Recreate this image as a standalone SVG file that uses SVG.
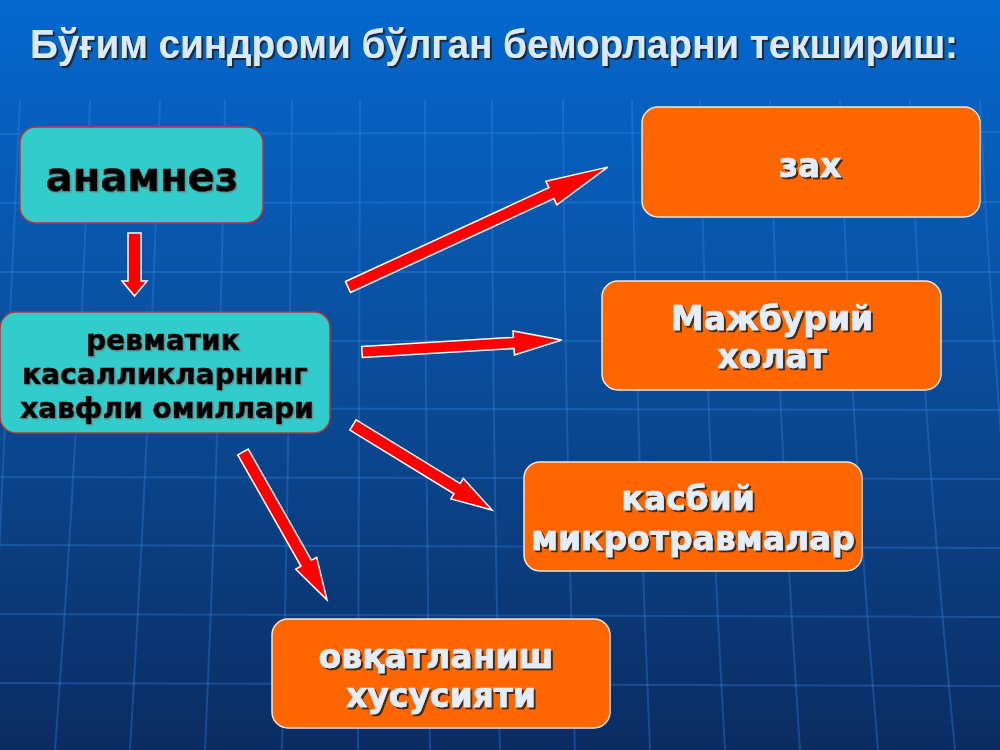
<svg xmlns="http://www.w3.org/2000/svg" width="1000" height="750" viewBox="0 0 1000 750">
  <defs>
    <linearGradient id="bg" x1="0" y1="0" x2="0" y2="1">
      <stop offset="0" stop-color="#0468cf"/>
      <stop offset="0.45" stop-color="#0a4f9e"/>
      <stop offset="1" stop-color="#0b2c62"/>
    </linearGradient>
    <filter id="shadow" x="-10%" y="-20%" width="130%" height="150%">
      <feDropShadow dx="2" dy="2" stdDeviation="0.6" flood-color="#1a1a1a" flood-opacity="0.85"/>
    </filter>
    <filter id="shadowLight" x="-10%" y="-20%" width="130%" height="150%">
      <feDropShadow dx="1.5" dy="1.5" stdDeviation="0.6" flood-color="#6a7f80" flood-opacity="0.7"/>
    </filter>
  </defs>
  <style>
    .grid { stroke: #3c8ff0; stroke-width: 2; opacity: 0.3; fill: none; }
    .cyan { fill: #33cccc; stroke: #b03a3a; stroke-width: 1.5; }
    .orange { fill: #ff6600; stroke: #f5e8dc; stroke-width: 1.5; }
    .arrow { fill: #ff0000; stroke: #ffffff; stroke-width: 1.5; stroke-linejoin: miter; }
    .dark { font-family: "DejaVu Sans", Verdana, sans-serif; font-weight: bold; fill: #000000; stroke: #000000; stroke-width: 0.7; text-anchor: middle; }
    .light { font-family: "DejaVu Sans", Verdana, sans-serif; font-weight: bold; fill: #e4eefa; stroke: #e4eefa; stroke-width: 0.7; text-anchor: middle; }
    .title { font-family: "Liberation Sans", Arial, sans-serif; font-weight: bold; fill: #dceaf8; font-size: 40px; }
  </style>

  <rect x="0" y="0" width="1000" height="750" fill="url(#bg)"/>

  <g id="grid">
    <path class="grid" d="M0 134 L1000 132"/>
    <path class="grid" d="M0 203 L1000 202"/>
    <path class="grid" d="M0 272 L1000 272"/>
    <path class="grid" d="M0 341 L1000 341"/>
    <path class="grid" d="M0 408 L1000 410"/>
    <path class="grid" d="M0 477 L1000 479"/>
    <path class="grid" d="M0 545 L1000 548"/>
    <path class="grid" d="M0 614 L1000 617"/>
    <path class="grid" d="M0 683 L1000 686"/>
    <path class="grid" d="M20 100 Q5 420 -10 750"/>
    <path class="grid" d="M90 100 Q80 420 55 750"/>
    <path class="grid" d="M160 100 Q150 420 130 750"/>
    <path class="grid" d="M225 100 Q220 420 205 750"/>
    <path class="grid" d="M292 100 Q290 420 282 750"/>
    <path class="grid" d="M360 100 Q358 420 358 750"/>
    <path class="grid" d="M425 100 Q425 420 430 750"/>
    <path class="grid" d="M492 100 Q492 420 500 750"/>
    <path class="grid" d="M563 100 Q565 420 575 750"/>
    <path class="grid" d="M632 100 Q636 420 650 750"/>
    <path class="grid" d="M700 100 Q706 420 725 750"/>
    <path class="grid" d="M770 100 Q778 420 800 750"/>
    <path class="grid" d="M840 100 Q850 420 878 750"/>
    <path class="grid" d="M910 100 Q922 420 955 750"/>
    <path class="grid" d="M980 100 Q995 420 1030 750"/>
  </g>

  <g id="title">
    <text class="title" x="30" y="58" textLength="928" lengthAdjust="spacingAndGlyphs" filter="url(#shadow)">Бўғим синдроми бўлган беморларни текшириш:</text>
  </g>

  <g id="connectors">
    <polygon class="arrow" points="128,233 141,233 141,281 147,281 134.5,296 122,281 128,281"/>
    <polygon class="arrow" transform="translate(348,287) rotate(-24.78)" points="0,-6 224,-6 224,-13 286,0 224,13 224,6 0,6"/>
    <polygon class="arrow" transform="translate(362,352) rotate(-3.43)" points="0,-5.5 152,-5.5 152,-12 200,0 152,12 152,5.5 0,5.5"/>
    <polygon class="arrow" transform="translate(353,425) rotate(31.45)" points="0,-6 122,-6 122,-12 163,0 122,12 122,6 0,6"/>
    <polygon class="arrow" transform="translate(243,452) rotate(60.4)" points="0,-6 128,-6 128,-12 170,0 128,12 128,6 0,6"/>
  </g>

  <g id="node-anamnez">
    <rect class="cyan" x="20" y="127" width="243" height="96" rx="16"/>
    <text class="dark" x="142" y="191" font-size="40" filter="url(#shadowLight)">анамнез</text>
  </g>

  <g id="node-revmatik">
    <rect class="cyan" x="0" y="312" width="330" height="121" rx="16"/>
    <text class="dark" x="163" y="350" font-size="28" filter="url(#shadowLight)">ревматик</text>
    <text class="dark" x="165" y="384" font-size="28" filter="url(#shadowLight)">касалликларнинг</text>
    <text class="dark" x="167" y="418" font-size="28" filter="url(#shadowLight)">хавфли омиллари</text>
  </g>

  <g id="node-zax">
    <rect class="orange" x="642" y="107" width="338" height="110" rx="16"/>
    <text class="light" x="810" y="177" font-size="33" filter="url(#shadow)">зах</text>
  </g>

  <g id="node-majburiy">
    <rect class="orange" x="602" y="281" width="339" height="109" rx="16"/>
    <text class="light" x="772" y="330" font-size="33" filter="url(#shadow)">Мажбурий</text>
    <text class="light" x="772" y="368" font-size="33" filter="url(#shadow)">холат</text>
  </g>

  <g id="node-kasbiy">
    <rect class="orange" x="524" y="462" width="338" height="109" rx="16"/>
    <text class="light" x="688" y="510" font-size="33" filter="url(#shadow)">касбий</text>
    <text class="light" x="693" y="550" font-size="33" filter="url(#shadow)">микротравмалар</text>
  </g>

  <g id="node-ovqat">
    <rect class="orange" x="272" y="619" width="338" height="109" rx="16"/>
    <text class="light" x="436" y="668" font-size="33" filter="url(#shadow)">овқатланиш</text>
    <text class="light" x="441" y="707" font-size="33" filter="url(#shadow)">хусусияти</text>
  </g>
</svg>
